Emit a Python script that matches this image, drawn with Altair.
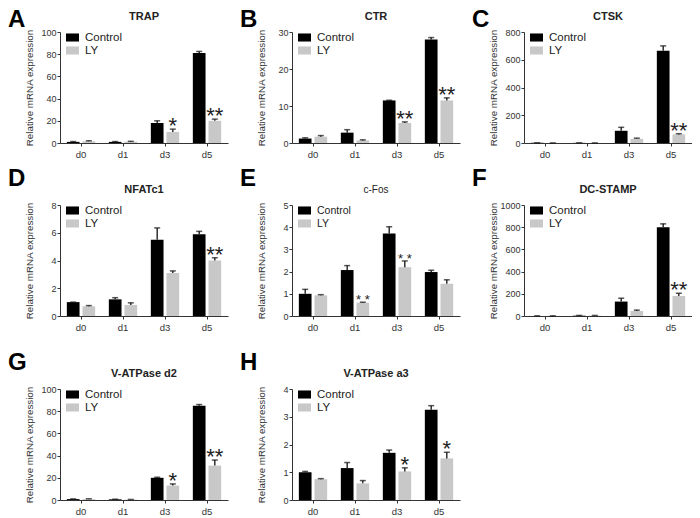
import altair as alt
import pandas as pd

days = ["d0", "d1", "d3", "d5"]
groups = ["Control", "LY"]
letters = ["A", "B", "C", "D", "E", "F", "G", "H"]
genes = ["TRAP", "CTR", "CTSK", "NFATc1", "c-Fos", "DC-STAMP", "V-ATPase d2", "V-ATPase a3"]

trap_ctrl = [1.0, 1.0, 18.0, 81.0]
trap_ctrl_err = [0.3, 0.3, 2.0, 1.5]
trap_ly = [1.5, 1.2, 10.0, 20.0]
trap_ly_err = [0.5, 0.3, 2.5, 1.5]
trap_stars = ["", "", "*", "**"]
trap_ticks = [0, 20, 40, 60, 80, 100]

ctr_ctrl = [1.2, 2.8, 11.5, 28.0]
ctr_ctrl_err = [0.2, 0.8, 0.05, 0.5]
ctr_ly = [1.7, 0.7, 5.4, 11.5]
ctr_ly_err = [0.3, 0.15, 0.3, 0.7]
ctr_stars = ["", "", "**", "**"]
ctr_ticks = [0, 10, 20, 30]

ctsk_ctrl = [1.0, 1.0, 88.0, 665.0]
ctsk_ctrl_err = [0.5, 0.5, 25.0, 35.0]
ctsk_ly = [0.5, 0.5, 30.0, 62.0]
ctsk_ly_err = [0.2, 0.2, 5.0, 5.0]
ctsk_stars = ["", "", "", "**"]
ctsk_ticks = [0, 200, 400, 600, 800]

nfat_ctrl = [1.0, 1.2, 5.5, 5.9]
nfat_ctrl_err = [0.0, 0.12, 0.85, 0.2]
nfat_ly = [0.7, 0.8, 3.1, 4.0]
nfat_ly_err = [0.05, 0.15, 0.15, 0.2]
nfat_stars = ["", "", "", "**"]
nfat_ticks = [0, 2, 4, 6, 8]

fos_ctrl = [1.0, 2.07, 3.72, 1.98]
fos_ctrl_err = [0.2, 0.2, 0.3, 0.08]
fos_ly = [0.93, 0.6, 2.2, 1.45]
fos_ly_err = [0.03, 0.02, 0.28, 0.18]
fos_stars = ["", "* *", "* *", ""]
fos_ticks = [0, 1, 2, 3, 4, 5]

dcs_ctrl = [1.0, 3.0, 130.0, 800.0]
dcs_ctrl_err = [0.5, 2.0, 30.0, 30.0]
dcs_ly = [1.0, 3.0, 45.0, 180.0]
dcs_ly_err = [0.5, 2.0, 8.0, 25.0]
dcs_stars = ["", "", "", "**"]
dcs_ticks = [0, 200, 400, 600, 800, 1000]

d2_ctrl = [0.8, 0.6, 20.0, 85.0]
d2_ctrl_err = [0.2, 0.1, 0.5, 1.0]
d2_ly = [0.8, 0.4, 13.0, 31.0]
d2_ly_err = [0.3, 0.1, 1.5, 5.0]
d2_stars = ["", "", "*", "**"]
d2_ticks = [0, 20, 40, 60, 80, 100]

a3_ctrl = [1.0, 1.15, 1.7, 3.25]
a3_ctrl_err = [0.03, 0.2, 0.1, 0.15]
a3_ly = [0.75, 0.6, 1.03, 1.5]
a3_ly_err = [0.02, 0.1, 0.13, 0.22]
a3_stars = ["", "", "*", "*"]
a3_ticks = [0, 1, 2, 3, 4]

panel_data = [
    (trap_ctrl, trap_ctrl_err, trap_ly, trap_ly_err, trap_stars, trap_ticks),
    (ctr_ctrl, ctr_ctrl_err, ctr_ly, ctr_ly_err, ctr_stars, ctr_ticks),
    (ctsk_ctrl, ctsk_ctrl_err, ctsk_ly, ctsk_ly_err, ctsk_stars, ctsk_ticks),
    (nfat_ctrl, nfat_ctrl_err, nfat_ly, nfat_ly_err, nfat_stars, nfat_ticks),
    (fos_ctrl, fos_ctrl_err, fos_ly, fos_ly_err, fos_stars, fos_ticks),
    (dcs_ctrl, dcs_ctrl_err, dcs_ly, dcs_ly_err, dcs_stars, dcs_ticks),
    (d2_ctrl, d2_ctrl_err, d2_ly, d2_ly_err, d2_stars, d2_ticks),
    (a3_ctrl, a3_ctrl_err, a3_ly, a3_ly_err, a3_stars, a3_ticks),
]

FONT = "Liberation Sans"
W, H = 168, 111
YT = "Relative mRNA expression"


def panel(letter, gene, c, ce, l, le, stars, ticks, letter_y, small=False):
    rows = []
    for i, d in enumerate(days):
        rows.append(dict(day=d, group="Control", value=c[i], top=c[i] + ce[i], star=""))
        rows.append(dict(day=d, group="LY", value=l[i], top=l[i] + le[i], star=stars[i]))
    df = pd.DataFrame(rows)
    base = alt.Chart(df)
    x = alt.X("day:N", sort=days, scale=alt.Scale(paddingInner=0, paddingOuter=0),
              axis=alt.Axis(title=None, labelAngle=0))
    xo = alt.XOffset("group:N", sort=groups,
                     scale=alt.Scale(paddingInner=0.1875, paddingOuter=0.4375))
    yscale = alt.Scale(domain=[ticks[0], ticks[-1]], nice=False)

    def yenc(field):
        return alt.Y(field, type="quantitative", scale=yscale,
                     axis=alt.Axis(values=ticks, title=YT, titleX=-31, titleY=H / 2,
                                   titleAngle=270, titleAlign="center",
                                   titleBaseline="middle", labelOverlap=False,
                                   labelFlush=False, tickCount=len(ticks), format="d"))

    bars = base.mark_bar().encode(
        x=x, xOffset=xo, y=yenc("value"),
        color=alt.Color("group:N", sort=groups,
                        scale=alt.Scale(domain=groups, range=["#000000", "#c8c8c8"]),
                        legend=alt.Legend(title=None, orient="none", legendX=6, legendY=-1,
                                          symbolType="M-1,-0.62H1V0.62H-1Z", symbolSize=169,
                                          symbolStrokeWidth=0, labelFont=FONT,
                                          labelFontSize=10.5 if small else 11.5,
                                          labelColor="#222", labelOffset=6, padding=0,
                                          rowPadding=1)),
    )
    rule = base.mark_rule(color="#111", strokeWidth=1.3).encode(
        x=x, xOffset=xo, y=yenc("value"), y2="top:Q")
    cap = base.mark_tick(color="#111", thickness=1.5, size=6, orient="horizontal").encode(
        x=x, xOffset=xo, y=yenc("top"))
    star = base.transform_filter(alt.datum.star != "").mark_text(
        font=FONT, fontSize=13 if small else 22, baseline="alphabetic",
        dy=2 if small else 4, color="#222").encode(
        x=x, xOffset=xo, y=yenc("top"), text="star:N")
    lab = alt.Chart(pd.DataFrame({"t": [letter]})).mark_text(
        font=FONT, fontSize=24, fontWeight="bold", align="left", baseline="alphabetic",
        color="#000").encode(x=alt.value(-52), y=alt.value(letter_y), text="t:N")
    ttl = alt.Chart(pd.DataFrame({"g": [gene]})).mark_text(
        font=FONT, fontSize=10 if small else 11, fontWeight="normal" if small else "bold",
        align="center", baseline="alphabetic", color="#222").encode(
        x=alt.value(W / 2), y=alt.value(-12), text="g:N")
    return alt.layer(bars, rule, cap, star, lab, ttl).properties(width=W, height=H)


def indep(ch):
    return ch.resolve_scale(color="independent", x="independent", y="independent").resolve_legend(
        color="independent")


charts = []
for i, (c, ce, l, le, st, tk) in enumerate(panel_data):
    ly = -5 if i < 3 else -19
    charts.append(panel(letters[i], genes[i], c, ce, l, le, st, tk, ly,
                        small=(genes[i] == "c-Fos")))

row1 = indep(alt.hconcat(*charts[0:3], spacing=12))
row2 = indep(alt.hconcat(*charts[3:6], spacing=12))
row3 = indep(alt.hconcat(*charts[6:8], spacing=12))

top = indep(alt.vconcat(row1, row2, spacing=8))
chart = indep(alt.vconcat(top, row3, spacing=19))

chart = chart.properties(padding=0).configure_view(stroke=None).configure_axis(
    domainColor="#333", tickColor="#333", labelColor="#333", titleColor="#333",
    labelFont=FONT, titleFont=FONT, titleFontWeight="normal", titleFontSize=9.8,
    grid=False, domainWidth=1, tickWidth=1
).configure_axisY(tickSize=3, labelFontSize=9, labelPadding=1, labelOverlap=False).configure_axisX(
    tickSize=3, labelFontSize=9.5, labelPadding=3)

chart.save("out.html", embed_options={"renderer": "svg", "actions": False})
